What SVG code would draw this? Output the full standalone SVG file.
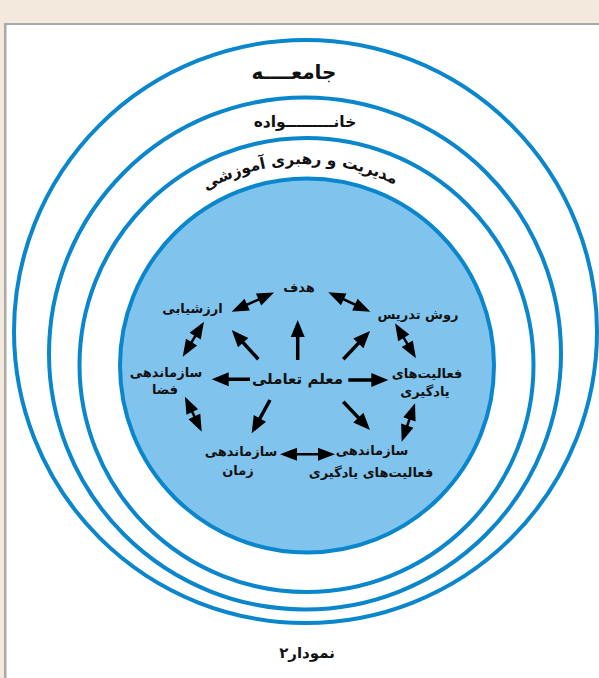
<svg xmlns="http://www.w3.org/2000/svg" width="599" height="678" viewBox="0 0 599 678">
<style>
.ring{fill:none;stroke:#0986cc;stroke-width:4}
.t{font-family:"DejaVu Sans",sans-serif;font-weight:bold;fill:#111;text-anchor:middle}
.n{font-size:13px}
.sh{stroke:#000;stroke-width:3.5;fill:none}
.dh{stroke:#000;stroke-width:2.5;fill:none}
</style>
<defs>
<marker id="ah" viewBox="-18 -8 20 16" refX="-5" refY="0" markerWidth="20" markerHeight="16" markerUnits="userSpaceOnUse" orient="auto"><path d="M0,0 L-17,-7 L-17,7 z" fill="#000"/></marker>
<marker id="ah2" viewBox="-18 -8 20 16" refX="-4" refY="0" markerWidth="20" markerHeight="16" markerUnits="userSpaceOnUse" orient="auto-start-reverse"><path d="M0,0 L-17,-6.5 L-17,6.5 z" fill="#000"/></marker>
<path id="arcT" d="M163.9,222.9 A201,201 0 0 1 448.1,222.9"/>
</defs>
<rect x="0" y="0" width="599" height="678" fill="#f3e9dd"/>
<rect x="4" y="23" width="595" height="655" fill="#a9a9a9"/>
<rect x="6.5" y="25" width="592.5" height="653" fill="#ffffff"/>
<g id="ring-society">
<circle class="ring" cx="305.5" cy="331.5" r="291.5"/>
<text class="t" x="294" y="79" font-size="20">جامعــــه</text>
</g>
<g id="ring-family">
<circle class="ring" cx="305" cy="353.5" r="256"/>
<text class="t" x="305" y="127" font-size="15.5">خانـــــــــواده</text>
</g>
<g id="ring-management">
<circle class="ring" cx="306.5" cy="365" r="227"/>
<text class="t" font-size="15.5"><textPath href="#arcT" startOffset="48%">مدیریت و رهبری آموزشی</textPath></text>
</g>
<g id="ring-school">
<circle cx="307" cy="365.5" r="187" fill="#80c4ee" stroke="#0986cc" stroke-width="4"/>
</g>
<g id="node-teacher"><text class="t" x="297.5" y="384" font-size="15">معلم تعاملی</text></g>
<g id="node-goal"><text class="t n" x="299" y="292">هدف</text></g>
<g id="node-evaluation"><text class="t n" x="192.5" y="313">ارزشیابی</text></g>
<g id="node-method"><text class="t n" x="418" y="319">روش تدریس</text></g>
<g id="node-activities"><text class="t n" x="427" y="378">فعالیت‌های</text><text class="t n" x="425" y="396">یادگیری</text></g>
<g id="node-space"><text class="t n" x="166" y="377">سازماندهی</text><text class="t n" x="165" y="394">فضا</text></g>
<g id="node-time"><text class="t n" x="241" y="456">سازماندهی</text><text class="t n" x="238" y="475">زمان</text></g>
<g id="node-org-activities"><text class="t n" x="372" y="455">سازماندهی</text><text class="t n" x="371" y="477">فعالیت‌های یادگیری</text></g>
<g id="connectors">
<line class="sh" x1="297.7" y1="360" x2="297.7" y2="325" marker-end="url(#ah)"/>
<line class="sh" x1="258.3" y1="359.3" x2="235.1" y2="333.7" marker-end="url(#ah)"/>
<line class="sh" x1="343.3" y1="359.3" x2="366.6" y2="334.6" marker-end="url(#ah)"/>
<line class="sh" x1="250" y1="379.3" x2="216.7" y2="379.3" marker-end="url(#ah)"/>
<line class="sh" x1="348.3" y1="380" x2="383.3" y2="380" marker-end="url(#ah)"/>
<line class="sh" x1="343.3" y1="401.7" x2="366.6" y2="426.4" marker-end="url(#ah)"/>
<line class="sh" x1="270" y1="400" x2="254.1" y2="428.9" marker-end="url(#ah)"/>
<line class="dh" x1="235.3" y1="310" x2="270.4" y2="294.2" marker-start="url(#ah2)" marker-end="url(#ah2)"/>
<line class="dh" x1="331.9" y1="293.9" x2="366.7" y2="310" marker-start="url(#ah2)" marker-end="url(#ah2)"/>
<line class="dh" x1="201.9" y1="325.1" x2="184.8" y2="353.3" marker-start="url(#ah2)" marker-end="url(#ah2)"/>
<line class="dh" x1="186.7" y1="400.3" x2="200" y2="428.1" marker-start="url(#ah2)" marker-end="url(#ah2)"/>
<line class="dh" x1="397.1" y1="326.7" x2="413.9" y2="354.9" marker-start="url(#ah2)" marker-end="url(#ah2)"/>
<line class="dh" x1="413.7" y1="407.1" x2="403" y2="437.9" marker-start="url(#ah2)" marker-end="url(#ah2)"/>
<line class="dh" x1="284" y1="454.3" x2="331" y2="454.3" marker-start="url(#ah2)" marker-end="url(#ah2)"/>
</g>
<g id="caption"><text class="t" x="307" y="658" font-size="15">نمودار۲</text></g>
</svg>
